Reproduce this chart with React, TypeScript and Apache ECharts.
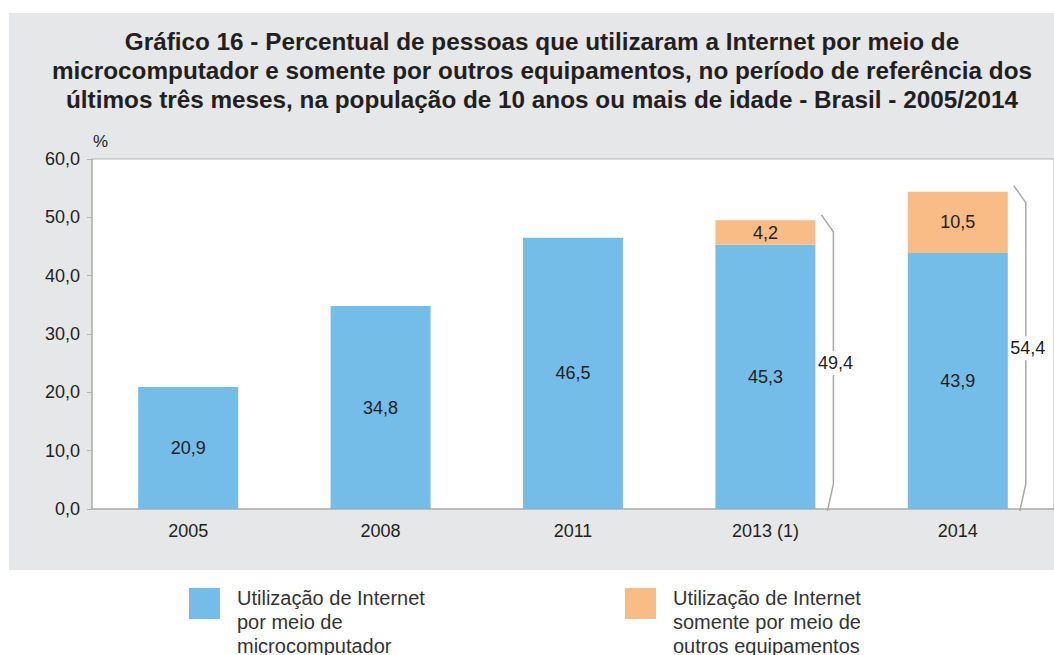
import React, { useEffect, useRef } from "react";
import * as echarts from "echarts";

const categories = ["2005", "2008", "2011", "2013 (1)", "2014"];
const microValues = [20.9, 34.8, 46.5, 45.3, 43.9];
const otherValues = [null, null, null, 4.2, 10.5];
const totalValues = [null, null, null, 49.4, 54.4];
const yTicks = [0, 10, 20, 30, 40, 50, 60];

const NAME_A = "Utilização de Internet por meio de microcomputador";
const NAME_B = "Utilização de Internet somente por meio de outros equipamentos";
const LEGEND_LINES: Record<string, string[]> = {
  [NAME_A]: ["Utilização de Internet", "por meio de", "microcomputador"],
  [NAME_B]: ["Utilização de Internet", "somente por meio de", "outros equipamentos"],
};

const TITLE =
  "Gráfico 16 - Percentual de pessoas que utilizaram a Internet por meio de\nmicrocomputador e somente por outros equipamentos, no período de referência dos\núltimos três meses, na população de 10 anos ou mais de idade - Brasil - 2005/2014";

const FONT = "'Liberation Sans', Arial, sans-serif";
const TEXT = "#231f20";
const BLUE = "#74bde8";
const ORANGE = "#f9bc87";
const fmt = (v: number) => v.toFixed(1).replace(".", ",");

const legendFor = (name: string, left: number) => ({
  data: [name],
  left,
  top: 549,
  padding: 0,
  itemWidth: 31,
  itemHeight: 31,
  icon: "rect",
  selectedMode: false,
  formatter: (n: string) =>
    "{s| }\n" + LEGEND_LINES[n].map((l) => "{a|" + l + "}").join("\n"),
  textStyle: {
    fontSize: 20,
    color: "#333333",
    fontFamily: FONT,
    padding: [0, 0, 0, 12],
    rich: {
      s: { lineHeight: 37, fontSize: 2, height: 37 },
      a: { lineHeight: 24, fontSize: 20, color: "#333333", fontFamily: FONT },
    },
  },
});

export default function App() {
  const ref = useRef<HTMLDivElement>(null);
  useEffect(() => {
    if (!ref.current) return;
    const chart = echarts.init(ref.current, null, { renderer: "svg" });
    const braceData = totalValues
      .map((t, i) => (t == null ? null : [i, t]))
      .filter((d) => d !== null);
    chart.setOption({
      animation: false,
      textStyle: { fontFamily: FONT },
      title: {
        text: TITLE,
        left: 537,
        top: 22,
        textAlign: "center",
        textStyle: {
          fontFamily: FONT,
          fontSize: 24.3,
          fontWeight: "bold",
          color: TEXT,
          lineHeight: 29,
        },
      },
      graphic: [
        {
          type: "rect",
          z: -10,
          silent: true,
          shape: { x: 9, y: 13, width: 1100, height: 557 },
          style: { fill: "#e6e7e9" },
        },
        {
          type: "text",
          left: 93,
          top: 133,
          style: { text: "%", fontSize: 17, fill: TEXT, fontFamily: FONT },
        },
      ],
      legend: [legendFor(NAME_A, 189), legendFor(NAME_B, 625)],
      grid: {
        left: 92,
        top: 159,
        bottom: 146,
        right: -3,
        show: true,
        backgroundColor: "#ffffff",
        borderColor: "#b3b3b3",
        borderWidth: 1,
        containLabel: false,
      },
      xAxis: {
        type: "category",
        data: categories,
        axisLine: { show: true, lineStyle: { color: "#b3b3b3", width: 1.5 } },
        axisTick: { show: false },
        axisLabel: { fontSize: 18, color: TEXT, margin: 13, fontFamily: FONT },
      },
      yAxis: {
        type: "value",
        min: yTicks[0],
        max: yTicks[yTicks.length - 1],
        interval: 10,
        splitLine: { show: false },
        axisLine: { show: true, lineStyle: { color: "#b3b3b3", width: 1.5 } },
        axisTick: { show: true, length: 5, lineStyle: { color: "#b3b3b3" } },
        axisLabel: {
          fontSize: 18,
          color: TEXT,
          margin: 12,
          fontFamily: FONT,
          formatter: (v: number) => fmt(v),
        },
      },
      series: [
        {
          name: NAME_A,
          type: "bar",
          stack: "total",
          barWidth: 100,
          data: microValues,
          itemStyle: { color: BLUE },
          label: {
            show: true,
            position: "inside",
            fontSize: 18,
            color: TEXT,
            fontFamily: FONT,
            formatter: (p: any) => fmt(p.value),
          },
        },
        {
          name: NAME_B,
          type: "bar",
          stack: "total",
          barWidth: 100,
          data: otherValues,
          itemStyle: { color: ORANGE },
          label: {
            show: true,
            position: "inside",
            fontSize: 18,
            color: TEXT,
            fontFamily: FONT,
            formatter: (p: any) => (p.value == null ? "" : fmt(p.value)),
          },
        },
        {
          name: "total",
          type: "custom",
          data: braceData,
          encode: { x: 0, y: 1 },
          clip: false,
          z: 5,
          renderItem: (params: any, api: any) => {
            const top = api.coord([api.value(0), api.value(1)]);
            const base = api.coord([api.value(0), 0]);
            const cx = top[0];
            const x0 = cx + 56;
            const x1 = cx + 68;
            const yTop = top[1] - 6;
            const yBot = base[1] + 2;
            const mid = (yTop + yBot) / 2;
            return {
              type: "group",
              children: [
                {
                  type: "polyline",
                  shape: {
                    points: [
                      [x0, yTop],
                      [x1, yTop + 17],
                      [x1, base[1] - 25],
                      [x0 + 6, yBot],
                    ],
                  },
                  style: { stroke: "#a8a8a8", lineWidth: 1.5, fill: "none" },
                },
                {
                  type: "text",
                  x: x1 + 2,
                  y: mid,
                  style: {
                    text: fmt(api.value(1)),
                    fontSize: 18,
                    fill: TEXT,
                    fontFamily: FONT,
                    align: "center",
                    verticalAlign: "middle",
                    backgroundColor: "#ffffff",
                    padding: [3, 1],
                  },
                },
              ],
            };
          },
        },
      ],
    });
    return () => chart.dispose();
  }, []);
  return (
    <div
      ref={ref}
      style={{ position: "absolute", left: 0, top: 0, width: 1054, height: 655 }}
    />
  );
}
